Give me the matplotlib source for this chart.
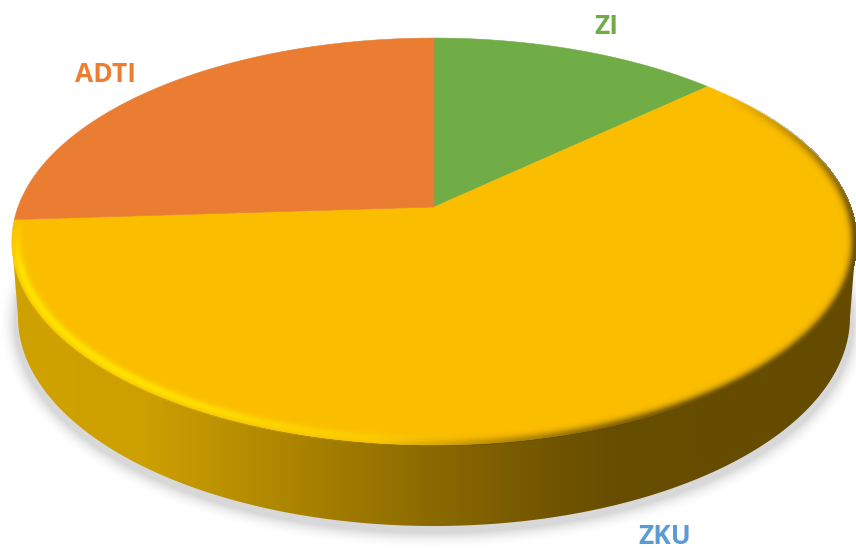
import matplotlib
matplotlib.use('Agg')
import matplotlib.pyplot as plt
import numpy as np
from matplotlib.colors import LinearSegmentedColormap
from matplotlib.patches import Polygon

labels = ['ZI', 'ZKU', 'ADTI']
values = [13.1, 60.9, 26.0]
colors = ['#70AD47', '#FBBD00', '#EB7D32']
label_colors = ['#70AD47', '#5B9BD5', '#ED7D31']
label_pos = [(606, 26), (665, 536), (106, 74)]

W, H = 856, 549
# top face is a circle seen in perspective, apex sits above the ellipse centre
cx, apex_y = 434, 207
top_a, top_b, persp = 197.6, 416.0, 0.1695
ell_y, ell_w, ell_h = 241.5, 422.0, 203.5
low_y, low_w, low_h = 317.0, 416.0, 209.0

side_stops = [(0.0, '#CFA000'), (0.17, '#CDA000'), (0.36, '#A88100'),
              (0.52, '#896700'), (0.66, '#6F5300'), (0.72, '#684E00'), (1.0, '#644B00')]


def project(angle, r=1.0):
    # angle measured clockwise from 12 o'clock
    x = r * np.sin(angle)
    y = r * np.cos(angle)
    d = 1 + persp * y
    return cx + top_b * x / d, apex_y - top_a * y / d


def inside_dist(xx, yy, x0, y0, w, h):
    # rough pixel distance to an ellipse edge, positive inside
    u = (xx - x0) / w
    v = (yy - y0) / h
    r = np.sqrt(u ** 2 + v ** 2) + 1e-9
    grad = np.sqrt((u / w) ** 2 + (v / h) ** 2) / r + 1e-9
    return (1 - r) / grad, u / r, v / r


fig = plt.figure(figsize=(W / 100, H / 100), dpi=100)
ax = fig.add_axes([0, 0, 1, 1])
xx, yy = np.meshgrid(np.arange(W) + 0.5, np.arange(H) + 0.5)
box = (0, W, H, 0)

# soft shadow under the disc
d, nx, ny = inside_dist(xx, yy, cx, low_y + 5, low_w + 3, low_h + 2)
shadow = np.zeros((H, W, 4))
shadow[..., :3] = 0.5
shadow[..., 3] = 0.3 * np.clip(1 + d / 16, 0, 1) ** 2
ax.imshow(shadow, extent=box, zorder=1, interpolation='bilinear')

# side wall
t = np.linspace(np.pi, 0, 300)
side_pts = np.r_[np.c_[cx + low_w * np.cos(t), low_y + low_h * np.sin(t)],
                 np.c_[cx + ell_w * np.cos(t), ell_y + ell_h * np.sin(t)][::-1]]
side_clip = Polygon(side_pts, closed=True, transform=ax.transData, fc='none', ec='none')
ax.add_patch(side_clip)
cmap = LinearSegmentedColormap.from_list('side', side_stops)
grad = np.linspace(0, 1, W).reshape(1, -1)
im = ax.imshow(grad, extent=box, cmap=cmap, aspect='auto', zorder=2)
im.set_clip_path(side_clip)

# slices
edges = np.r_[0, np.cumsum(values)] / np.sum(values) * 2 * np.pi
for i in range(len(values)):
    a = np.linspace(edges[i], edges[i + 1], 200)
    px, py = project(a)
    ax.fill(np.r_[cx, px], np.r_[apex_y, py], color=colors[i], lw=0.4, zorder=3)

# bevel on the rim: bright to the lower left, dark to the lower right
d, nx, ny = inside_dist(xx, yy, cx, ell_y, ell_w, ell_h)
bright = np.clip((-0.95 * nx + 0.3 * ny - 0.2) / 0.7, 0, 1) * np.clip((ny + 0.12) / 0.25, 0, 1)
dark = np.clip((0.9 * nx + 0.43 * ny - 0.3) / 0.6, 0, 1)
rim = np.zeros((H, W, 4))
glow = bright * np.exp(-((d - 5) / 5.0) ** 2) * 0.95
shade = dark * np.exp(-(np.clip(d, 0, None) / 5.5) ** 2) * 0.95
rim[..., 0] = (1.0 * glow + 0.40 * shade) / (glow + shade + 1e-6)
rim[..., 1] = (0.90 * glow + 0.30 * shade) / (glow + shade + 1e-6)
rim[..., 3] = np.clip(glow + shade, 0, 1)
rim[d < -1.5] = 0
ax.imshow(rim, extent=box, zorder=4, interpolation='bilinear')

for name, col, pos in zip(labels, label_colors, label_pos):
    ax.text(pos[0], pos[1], name, color=col, fontsize=19, fontweight='bold',
            family='Open Sans', ha='center', va='center', zorder=5)

ax.set_xlim(0, W)
ax.set_ylim(H, 0)
ax.axis('off')
fig.savefig('out.png', dpi=100, facecolor='white')
